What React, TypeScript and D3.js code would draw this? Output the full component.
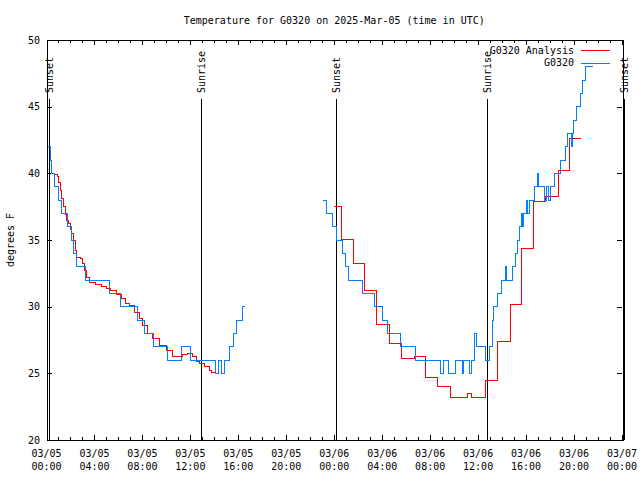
import React from "react";
import * as d3 from "d3";

// Hours since 2025-03-05 00:00 UTC, temperature (deg F)
const analysisSeg1: [number, number][] = [
  [0.67, 39.9], [0.92, 39.8], [1.04, 39.35], [1.17, 38.75], [1.28, 38.15], [1.42, 37.5],
  [1.56, 36.9], [1.69, 36.5], [1.84, 36.25], [1.98, 35.8], [2.11, 35.5], [2.25, 35.0],
  [2.4, 34.25], [2.53, 33.7], [2.81, 33.6], [3.03, 33.25], [3.21, 32.7], [3.36, 32.2],
  [3.61, 31.8], [4.07, 31.7], [4.57, 31.5], [4.98, 31.4], [5.32, 31.2], [5.82, 30.95],
  [6.24, 30.6], [6.6, 30.25], [6.93, 30.1], [7.35, 29.6], [7.76, 29.1], [8.04, 28.6],
  [8.46, 28.0], [8.87, 27.6], [9.43, 27.1], [9.99, 26.75], [10.54, 26.3], [10.96, 26.3],
  [11.33, 26.45], [11.8, 26.5], [12.16, 26.25], [12.5, 25.9], [12.77, 25.75], [13.19, 25.5],
  [13.61, 25.25], [13.75, 25.1], [14.02, 25.1],
];
const analysisSeg2: [number, number][] = [
  [23.98, 37.55], [24.58, 35.05], [25.63, 33.25], [26.55, 31.2], [27.55, 28.7], [28.63, 27.25],
  [29.64, 26.15], [30.72, 26.3], [31.64, 24.7], [32.64, 24.0], [33.73, 23.2], [35.15, 23.5],
  [35.45, 23.2], [36.65, 24.45], [37.6, 27.4], [38.69, 30.2], [39.61, 34.4], [40.65, 37.9],
  [41.66, 38.3], [42.7, 40.2], [43.58, 42.6], [44.58, 42.6],
];
const obsSeg1: [number, number][] = [
  [0.1, 42], [0.3, 41], [0.45, 40], [0.67, 39], [1.0, 38], [1.25, 37], [1.79, 36], [2.05, 35],
  [2.25, 34], [2.5, 33], [3.26, 32], [5.26, 31], [6.18, 30], [7.6, 29], [8.18, 28], [8.89, 27],
  [10.1, 26], [11.27, 27], [12.02, 26], [14.1, 25], [14.32, 26], [14.6, 25], [14.86, 26],
  [15.3, 27], [15.6, 28], [15.86, 29], [16.36, 30], [16.53, 30],
];
const obsSeg2: [number, number][] = [
  [23.1, 38], [23.37, 37], [23.87, 36], [24.21, 35], [24.71, 34], [24.96, 33], [25.21, 32],
  [26.34, 31], [27.34, 30], [28.0, 29], [28.47, 28], [29.49, 27], [30.76, 26], [32.89, 25],
  [33.14, 26], [33.56, 25], [34.14, 26], [34.69, 25], [34.81, 26], [35.27, 25], [35.44, 26],
  [35.73, 28], [35.89, 27], [36.65, 26], [36.98, 27], [37.23, 29], [37.32, 30], [37.65, 31],
  [37.98, 32], [38.27, 33], [38.4, 32], [38.9, 33], [39.15, 34], [39.26, 35], [39.43, 36],
  [39.61, 37], [39.74, 36], [39.82, 37], [40.03, 38], [40.15, 37], [40.32, 38], [40.7, 39],
  [40.95, 40], [41.07, 39], [41.57, 38], [41.7, 39], [41.91, 38], [42.03, 39], [42.41, 40],
  [42.91, 41], [43.28, 42], [43.49, 43], [43.79, 42], [43.87, 43], [43.99, 44], [44.24, 45],
  [44.5, 46], [44.74, 47], [44.99, 48], [45.58, 48],
];

const sunLabels = ["Sunset", "Sunrise", "Sunset", "Sunrise", "Sunset"];
const sunHours = [0.17, 12.87, 24.14, 36.73, 48.17];

const xMajorHours = [0, 4, 8, 12, 16, 20, 24, 28, 32, 36, 40, 44, 48];
const xTickDates = ["03/05", "03/05", "03/05", "03/05", "03/05", "03/05", "03/06", "03/06", "03/06", "03/06", "03/06", "03/06", "03/07"];
const xTickTimes = ["00:00", "04:00", "08:00", "12:00", "16:00", "20:00", "00:00", "04:00", "08:00", "12:00", "16:00", "20:00", "00:00"];
const yTicks = [20, 25, 30, 35, 40, 45, 50];

const seriesNames = ["G0320 Analysis", "G0320"];
const seriesColors = ["#ff0000", "#0080ff"];
const title = "Temperature for G0320 on 2025-Mar-05 (time in UTC)";
const yTitle = "degrees F";

export default function App() {
  const W = 640, H = 480;
  const left = 46.5, right = 622, top = 40, bottom = 440;
  const x = d3.scaleLinear().domain([0, 48]).range([left, right]);
  const y = d3.scaleLinear().domain([20, 50]).range([bottom, top]);
  const line = d3.line<[number, number]>().x((d) => x(d[0])).y((d) => y(d[1])).curve(d3.curveStepAfter);
  const font = "'DejaVu Sans Mono', monospace";
  const minorHours = d3.range(0, 49);
  const snap = (v: number) => Math.round(v) + 0.5;

  return (
    <svg width={W} height={H} style={{ position: "absolute", left: 0, top: 0, background: "#fff" }} fontFamily={font} fontSize={10}>
      <rect x={0} y={0} width={W} height={H} fill="#fff" />
      <text x={(left + right) / 2} y={24} textAnchor="middle" fill="#000">{title}</text>
      <text transform={`translate(14,${(top + bottom) / 2}) rotate(-90)`} textAnchor="middle" fill="#000">{yTitle}</text>

      {/* ticks */}
      <g stroke="#000" strokeWidth={1} shapeRendering="crispEdges">
        {minorHours.map((h) => {
          const len = h % 4 === 0 ? 5 : 3;
          const xx = snap(x(h));
          return (
            <g key={"mx" + h}>
              <line x1={xx} x2={xx} y1={bottom} y2={bottom - len} />
              <line x1={xx} x2={xx} y1={top} y2={top + len} />
            </g>
          );
        })}
        {yTicks.map((t) => {
          const yy = snap(y(t));
          return (
            <g key={"yt" + t}>
              <line x1={left} x2={left + 5} y1={yy} y2={yy} />
              <line x1={right} x2={right - 5} y1={yy} y2={yy} />
            </g>
          );
        })}
        <rect x={snap(left)} y={snap(top)} width={Math.round(right - left)} height={bottom - top} fill="none" />
      </g>

      {yTicks.map((t) => (
        <text key={"yl" + t} x={40} y={y(t)} dy="0.35em" textAnchor="end" fill="#000">{t}</text>
      ))}
      {xMajorHours.map((h, i) => (
        <g key={"xl" + h}>
          <text x={x(h)} y={457} textAnchor="middle" fill="#000">{xTickDates[i]}</text>
          <text x={x(h)} y={470} textAnchor="middle" fill="#000">{xTickTimes[i]}</text>
        </g>
      ))}

      {/* sunrise / sunset markers */}
      {sunHours.map((h, i) => {
        const xx = snap(x(h));
        return (
          <g key={"sun" + i}>
            <line x1={xx} x2={xx} y1={99} y2={bottom} stroke="#000" strokeWidth={1} shapeRendering="crispEdges" />
            <text transform={`translate(${xx},93) rotate(-90)`} dy="0.35em" textAnchor="start" fill="#000">{sunLabels[i]}</text>
          </g>
        );
      })}

      {/* data */}
      <g fill="none" strokeWidth={1} shapeRendering="crispEdges">
        <path d={line(analysisSeg1) || ""} stroke={seriesColors[0]} />
        <path d={line(analysisSeg2) || ""} stroke={seriesColors[0]} />
        <path d={line(obsSeg1) || ""} stroke={seriesColors[1]} />
        <path d={line(obsSeg2) || ""} stroke={seriesColors[1]} />
      </g>

      {/* legend */}
      {seriesNames.map((n, i) => {
        const yy = 50 + i * 12.5;
        return (
          <g key={"lg" + i}>
            <text x={574} y={yy} dy="0.35em" textAnchor="end" fill="#000">{n}</text>
            <line x1={581} x2={610} y1={snap(yy)} y2={snap(yy)} stroke={seriesColors[i]} strokeWidth={1} shapeRendering="crispEdges" />
          </g>
        );
      })}
    </svg>
  );
}
